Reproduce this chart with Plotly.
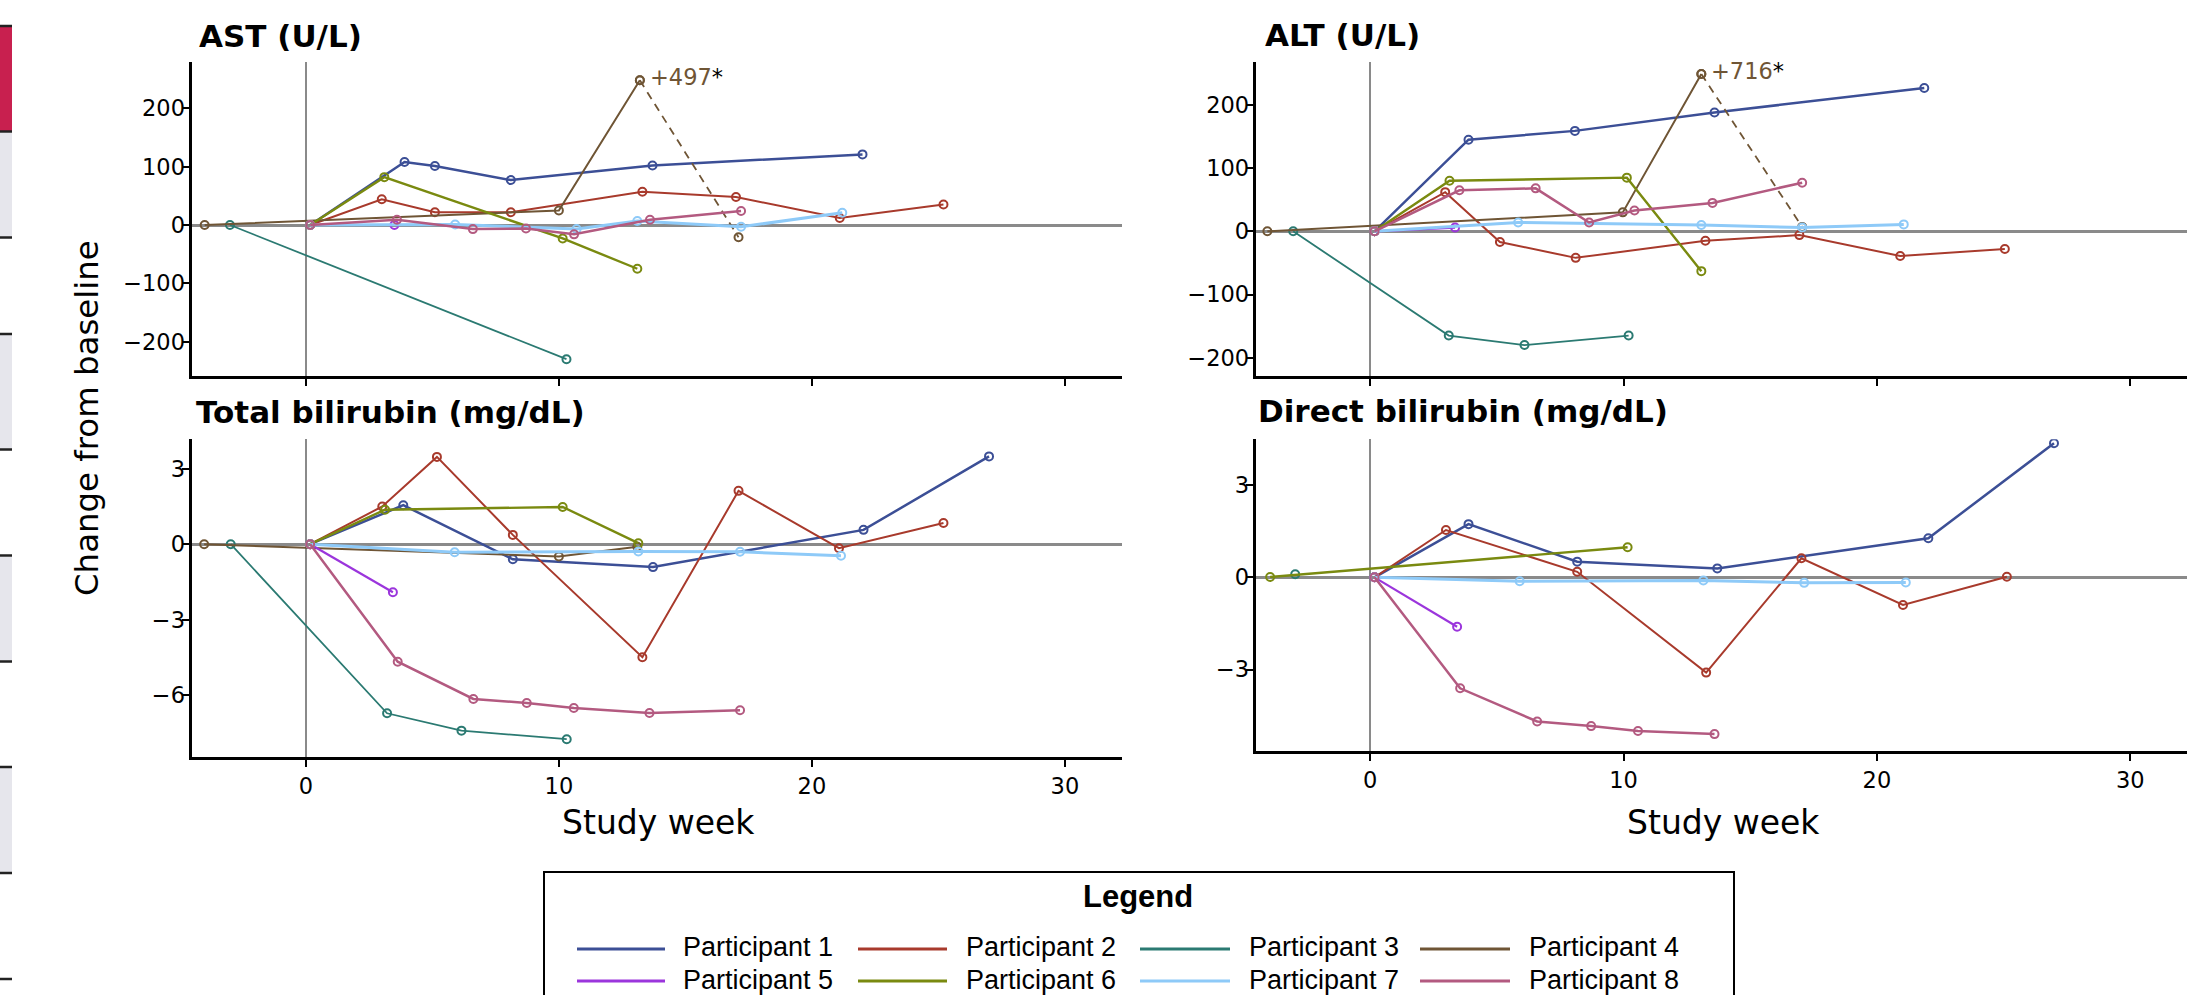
import plotly.graph_objects as go

# ---------------- data (weeks / change from baseline) ----------------
participants = ["Participant 1", "Participant 2", "Participant 3", "Participant 4",
                "Participant 5", "Participant 6", "Participant 7", "Participant 8"]
colors = ["#3C4F96", "#A83A2C", "#2B7A72", "#6F5535", "#9B35DC", "#7A8A10", "#8ECAF8", "#B35A80"]
line_widths = [2.5, 2.0, 1.8, 2.0, 2.2, 2.4, 3.0, 2.5]

# AST (U/L)
ast_w1 = [0.17, 3.9, 5.1, 8.1, 13.7, 22.0];            ast_v1 = [0, 108, 101, 77, 102, 121]
ast_w2 = [0.17, 3.0, 5.1, 8.1, 13.3, 17.0, 21.1, 25.2]; ast_v2 = [0, 44, 22, 22, 57, 48, 12, 35]
ast_w3 = [-3.0, 10.3];                                   ast_v3 = [0, -230]
ast_w4 = [-4.0, 10.0, 13.2, 17.1];                       ast_v4 = [0, 25, 248, -21]
ast_w5 = [0.17, 3.5];                                    ast_v5 = [0, 0]
ast_w6 = [0.17, 3.1, 10.15, 13.1];                       ast_v6 = [0, 82, -23, -75]
ast_w7 = [0.17, 5.9, 10.7, 13.1, 17.2, 21.2];            ast_v7 = [0, 1, -7, 7, -3, 21]
ast_w8 = [0.17, 3.6, 6.6, 8.7, 10.6, 13.6, 17.2];        ast_v8 = [0, 9, -7, -6, -16, 9, 24]
ast_ticks = [-200, -100, 0, 100, 200]
ast_peak_label = "+497"

# ALT (U/L)
alt_w1 = [0.17, 3.88, 8.08, 13.59, 21.87];                  alt_v1 = [0, 145, 159, 188, 227]
alt_w2 = [0.17, 2.96, 5.12, 8.11, 13.23, 16.94, 20.92, 25.05]; alt_v2 = [0, 62, -17, -42, -15, -6, -39, -28]
alt_w3 = [-3.04, 3.1, 6.09, 10.2];                          alt_v3 = [0, -165, -180, -165]
alt_w4 = [-4.06, 9.97, 13.07, 17.05];                       alt_v4 = [0, 30, 249, 7]
alt_w5 = [0.17, 3.35];                                      alt_v5 = [0, 6]
alt_w6 = [0.17, 3.13, 10.13, 13.07];                        alt_v6 = [0, 80, 85, -63]
alt_w7 = [0.17, 5.84, 13.07, 17.05, 21.06];                 alt_v7 = [0, 14, 10, 6, 11]
alt_w8 = [0.17, 3.52, 6.53, 8.64, 10.43, 13.51, 17.05];     alt_v8 = [0, 65, 68, 14, 33, 45, 77]
alt_ticks = [-200, -100, 0, 100, 200]
alt_peak_label = "+716"

# Total bilirubin (mg/dL)
tb_w1 = [0.17, 3.85, 8.18, 13.72, 22.04, 27.0];            tb_v1 = [0, 1.55, -0.6, -0.91, 0.57, 3.49]
tb_w2 = [0.17, 3.02, 5.18, 8.18, 13.3, 17.1, 21.07, 25.2]; tb_v2 = [0, 1.5, 3.47, 0.37, -4.49, 2.12, -0.16, 0.84]
tb_w3 = [-2.97, 3.21, 6.15, 10.31];                        tb_v3 = [0, -6.72, -7.41, -7.75]
tb_w4 = [-4.02, 10.0, 13.1];                               tb_v4 = [0, -0.49, -0.1]
tb_w5 = [0.17, 3.44];                                      tb_v5 = [0, -1.91]
tb_w6 = [0.17, 3.13, 10.15, 13.14];                        tb_v6 = [0, 1.37, 1.48, 0.04]
tb_w7 = [0.17, 5.88, 13.14, 17.16, 21.15];                 tb_v7 = [0, -0.32, -0.29, -0.3, -0.46]
tb_w8 = [0.17, 3.63, 6.62, 8.73, 10.59, 13.58, 17.16];     tb_v8 = [0, -4.67, -6.15, -6.31, -6.51, -6.71, -6.6]
tb_ticks = [-6, -3, 0, 3]

# Direct bilirubin (mg/dL)
db_w1 = [0.17, 3.88, 8.17, 13.7, 22.03, 26.99];            db_v1 = [0, 1.73, 0.51, 0.29, 1.27, 4.36]
db_w2 = [0.17, 2.99, 8.17, 13.26, 17.02, 21.03, 25.13];    db_v2 = [0, 1.54, 0.18, -3.1, 0.62, -0.9, 0.02]
db_w3 = [-2.96];                                           db_v3 = [0.1]
db_w4 = [];                                                db_v4 = []
db_w5 = [0.17, 3.43];                                      db_v5 = [0, -1.61]
db_w6 = [-3.95, 10.16];                                    db_v6 = [0.01, 0.98]
db_w7 = [0.17, 5.9, 13.15, 17.13, 21.14];                  db_v7 = [0, -0.13, -0.1, -0.18, -0.17]
db_w8 = [0.17, 3.55, 6.59, 8.72, 10.57, 13.59];            db_v8 = [0, -3.61, -4.69, -4.84, -5.0, -5.1]
db_ticks = [-3, 0, 3]

week_ticks = [0, 10, 20, 30]
panel_titles = ["AST (U/L)", "ALT (U/L)", "Total bilirubin (mg/dL)", "Direct bilirubin (mg/dL)"]

# ---------------- figure ----------------
W, H = 2198, 995
FONT = "Liberation Sans, Arial, Helvetica, sans-serif"
PFONT = "DejaVu Sans, Verdana, sans-serif"


def px(xp):
    return xp / W


def py(yp):
    return 1 - yp / H


panels = [
    dict(xa="x", ya="y",
         series=[(ast_w1, ast_v1), (ast_w2, ast_v2), (ast_w3, ast_v3), (ast_w4, ast_v4),
                 (ast_w5, ast_v5), (ast_w6, ast_v6), (ast_w7, ast_v7), (ast_w8, ast_v8)],
         peak=ast_peak_label),
    dict(xa="x2", ya="y2",
         series=[(alt_w1, alt_v1), (alt_w2, alt_v2), (alt_w3, alt_v3), (alt_w4, alt_v4),
                 (alt_w5, alt_v5), (alt_w6, alt_v6), (alt_w7, alt_v7), (alt_w8, alt_v8)],
         peak=alt_peak_label),
    dict(xa="x3", ya="y3",
         series=[(tb_w1, tb_v1), (tb_w2, tb_v2), (tb_w3, tb_v3), (tb_w4, tb_v4),
                 (tb_w5, tb_v5), (tb_w6, tb_v6), (tb_w7, tb_v7), (tb_w8, tb_v8)],
         peak=None),
    dict(xa="x4", ya="y4",
         series=[(db_w1, db_v1), (db_w2, db_v2), (db_w3, db_v3), (db_w4, db_v4),
                 (db_w5, db_v5), (db_w6, db_v6), (db_w7, db_v7), (db_w8, db_v8)],
         peak=None),
]

fig = go.Figure()
annotations = []

for p in panels:
    for i, (wk, val) in enumerate(p["series"]):
        if not wk:
            continue
        c = colors[i]
        mk = dict(symbol="circle-open", size=8, color=c, line=dict(width=2, color=c))
        if p["peak"] is not None and i == 3:
            # solid up to the capped peak, dashed afterwards
            fig.add_trace(go.Scatter(x=wk[:3], y=val[:3], mode="lines+markers",
                                     line=dict(color=c, width=line_widths[i]), marker=mk,
                                     xaxis=p["xa"], yaxis=p["ya"], showlegend=False,
                                     name=participants[i]))
            fig.add_trace(go.Scatter(x=wk[2:], y=val[2:], mode="lines+markers",
                                     line=dict(color=c, width=1.8, dash="8px,6px"), marker=mk,
                                     xaxis=p["xa"], yaxis=p["ya"], showlegend=False,
                                     name=participants[i]))
            annotations.append(dict(x=wk[2], y=val[2], xref=p["xa"], yref=p["ya"],
                                    text=p["peak"] + "<span style='color:black'>*</span>",
                                    showarrow=False, xanchor="left", yanchor="middle",
                                    xshift=8, yshift=3,
                                    font=dict(family=PFONT, size=22.5, color=c)))
        else:
            fig.add_trace(go.Scatter(x=wk, y=val, mode="lines+markers",
                                     line=dict(color=c, width=line_widths[i]), marker=mk,
                                     xaxis=p["xa"], yaxis=p["ya"], showlegend=False,
                                     name=participants[i]))

axis_common = dict(showline=True, linecolor="black", linewidth=3, ticks="outside",
                   ticklen=7, tickwidth=2, tickcolor="black", showgrid=False,
                   zeroline=True, zerolinecolor="#8a8a8a",
                   tickfont=dict(family=PFONT, size=22.5, color="black"))

xdom_l = [px(191.5), px(1121.6)]
xdom_r = [px(1255.7), px(2187)]
xrange = [-4.52, 32.24]


def xax(dom, anchor, labels):
    d = dict(axis_common)
    d.update(domain=dom, anchor=anchor, range=xrange, tickvals=week_ticks,
             showticklabels=labels, zerolinewidth=2)
    return d


def yax(dom, anchor, rng, tv):
    d = dict(axis_common)
    d.update(domain=dom, anchor=anchor, range=rng, tickvals=tv, zerolinewidth=3,
             ticklabelstandoff=-8)
    return d


fig.update_layout(
    width=W, height=H, autosize=False,
    margin=dict(l=0, r=0, t=0, b=0, pad=0),
    paper_bgcolor="white", plot_bgcolor="white",
    font=dict(family=FONT, color="black"),
    showlegend=False,
    xaxis=xax(xdom_l, "y", False),
    yaxis=yax([py(376), py(61.7)], "x", [-258.8, 279.9], ast_ticks),
    xaxis2=xax(xdom_r, "y2", False),
    yaxis2=yax([py(376), py(61.7)], "x2", [-229, 268.5], alt_ticks),
    xaxis3=xax(xdom_l, "y3", True),
    yaxis3=yax([py(757.3), py(439.3)], "x3", [-8.47, 4.17], tb_ticks),
    xaxis4=xax(xdom_r, "y4", True),
    yaxis4=yax([py(751), py(439.3)], "x4", [-5.65, 4.49], db_ticks),
)

# panel titles
title_pos = [(197, 36), (1263, 34.5), (194, 412.5), (1256, 410.5)]
for t, (tx, ty) in zip(panel_titles, title_pos):
    annotations.append(dict(x=px(tx), y=py(ty), xref="paper", yref="paper", text="<b>" + t + "</b>",
                            showarrow=False, xanchor="left", yanchor="middle",
                            font=dict(family=PFONT, size=31, color="black")))

# axis titles
for cx in (658, 1723):
    annotations.append(dict(x=px(cx), y=py(822), xref="paper", yref="paper", text="Study week",
                            showarrow=False, xanchor="center", yanchor="middle",
                            font=dict(family=PFONT, size=33, color="black")))
annotations.append(dict(x=px(87), y=py(418), xref="paper", yref="paper", text="Change from baseline",
                        showarrow=False, xanchor="center", yanchor="middle", textangle=-90,
                        font=dict(family=PFONT, size=32.4, color="black")))

shapes = []

# legend box (manual)
shapes.append(dict(type="rect", xref="paper", yref="paper", x0=px(544), x1=px(1734),
                   y0=py(1100), y1=py(872), line=dict(color="black", width=2), fillcolor="white",
                   layer="below"))
annotations.append(dict(x=px(1138), y=py(896), xref="paper", yref="paper", text="<b>Legend</b>",
                        showarrow=False, xanchor="center", yanchor="middle",
                        font=dict(family=FONT, size=31, color="black")))
line_x = [(577, 665), (858, 947), (1140, 1230), (1420, 1510)]
text_x = [681, 964, 1247, 1527]
row_line_y = [949, 981]
row_text_y = [947, 979.5]
for i, name in enumerate(participants):
    r, col = divmod(i, 4)
    shapes.append(dict(type="line", xref="paper", yref="paper",
                       x0=px(line_x[col][0]), x1=px(line_x[col][1]),
                       y0=py(row_line_y[r]), y1=py(row_line_y[r]),
                       line=dict(color=colors[i], width=3)))
    annotations.append(dict(x=px(text_x[col]), y=py(row_text_y[r]), xref="paper", yref="paper",
                            text=name, showarrow=False, xanchor="left", yanchor="middle",
                            font=dict(family=FONT, size=27, color="black")))

# cropped strip at the far left edge
strip_fills = [(25, 131, "#C8204F"), (133, 237, "#E6E6EC"), (335, 449, "#E6E6EC"),
               (557, 661, "#E6E6EC"), (768, 872, "#E6E6EC")]
for y0, y1, fc in strip_fills:
    shapes.append(dict(type="rect", xref="paper", yref="paper", x0=0, x1=px(12),
                       y0=py(y1), y1=py(y0), line=dict(width=0), fillcolor=fc))
for ly in [26, 131.5, 237.5, 334, 449.5, 555.5, 661.5, 767, 873, 979]:
    shapes.append(dict(type="line", xref="paper", yref="paper", x0=0, x1=px(12),
                       y0=py(ly), y1=py(ly), line=dict(color="#222222", width=2.5)))

fig.update_layout(annotations=annotations, shapes=shapes)
fig.write_html("out.html", config={"displayModeBar": False},
               post_script="document.body.style.margin='0px';document.body.style.overflow='hidden';")
